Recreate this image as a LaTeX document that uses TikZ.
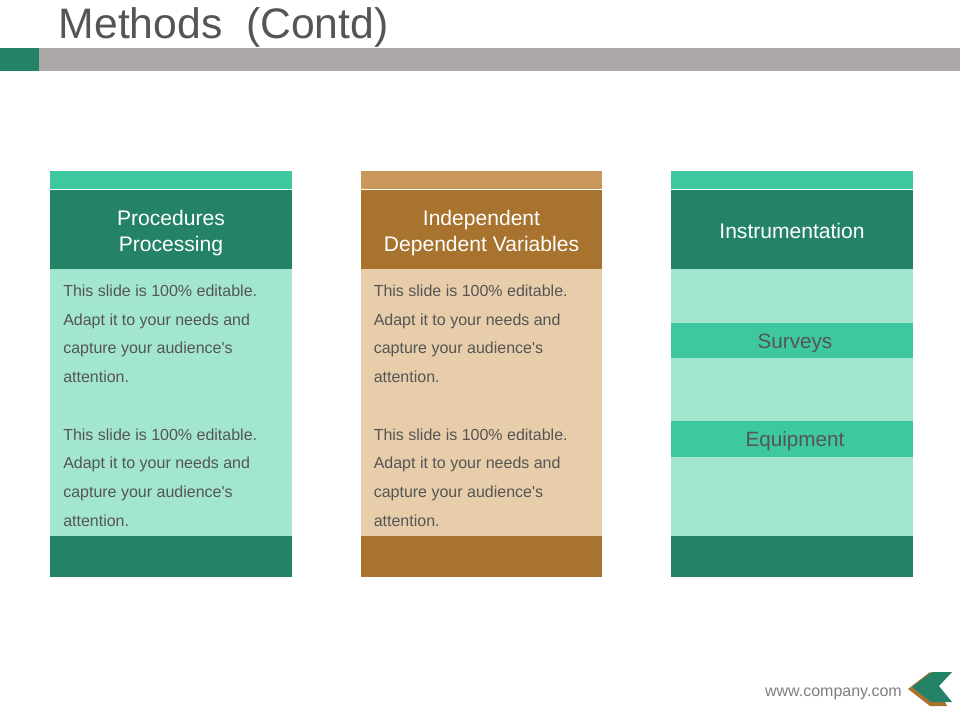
\documentclass[tikz,border=0pt]{standalone}
\usepackage{fontspec}
\setmainfont{Liberation Sans}[Ligatures=TeXOff]
\definecolor{dkgreen}{HTML}{248366}
\definecolor{teal}{HTML}{3EC8A0}
\definecolor{palegreen}{HTML}{A3E6CF}
\definecolor{dkbrown}{HTML}{A8722F}
\definecolor{tan}{HTML}{CA985A}
\definecolor{paletan}{HTML}{E7CDAA}
\definecolor{barGray}{HTML}{ADA8A8}
\definecolor{txtGray}{HTML}{555555}
\definecolor{urlGray}{HTML}{7F7F7F}
\tikzset{
  x=0.75pt,y=-0.75pt,
  header/.style={text=white,align=center,font=\fontsize{15.8}{19}\selectfont,inner sep=0pt},
  bodytext/.style={text=txtGray,align=left,anchor=north west,inner sep=0pt,font=\fontsize{12}{21.56}\selectfont},
  bandlabel/.style={text=txtGray,font=\fontsize{15.5}{19}\selectfont,inner sep=0pt},
}
\newcommand{\colbox}[5]{%
  \fill[#4] (#1,171) rectangle (#2,189);
  \fill[#3] (#1,190) rectangle (#2,269);
  \fill[#5] (#1,269) rectangle (#2,536);
  \fill[#3] (#1,536) rectangle (#2,577);
}
\newcommand{\bodylines}{This slide is 100\% editable.\\Adapt it to your needs and\\capture your audience's\\attention.\\[21.56pt]This slide is 100\% editable.\\Adapt it to your needs and\\capture your audience's\\attention.}
\begin{document}
\begin{tikzpicture}
\useasboundingbox (0,0) rectangle (960,720);
\fill[white] (0,0) rectangle (960,720);
% top bar
\fill[barGray] (39,48) rectangle (960,71);
\fill[dkgreen] (0,48) rectangle (39,71);
\node[text=txtGray,anchor=base west,inner sep=0pt,font=\fontsize{32}{38}\selectfont] (title) at (58.5,38.5) {Methods\ \ (Contd)};
% columns
\colbox{50}{292}{dkgreen}{teal}{palegreen}
\colbox{361}{602}{dkbrown}{tan}{paletan}
\colbox{671}{913}{dkgreen}{teal}{palegreen}
% bands
\fill[teal] (671,323) rectangle (913,358);
\fill[teal] (671,421) rectangle (913,457);
% headers
\node[header] (h1) at (171,233) {Procedures\\Processing};
\node[header] (h2) at (481.5,233) {Independent\\Dependent Variables};
\node[header] (h3) at (792,231) {Instrumentation};
% body text
\node[bodytext] (b1) at (63,284.5) {\bodylines};
\node[bodytext] (b2) at (373.5,284.5) {\bodylines};
\node[bandlabel] (s) at (795,343) {Surveys};
\node[bandlabel] (e) at (795,441) {Equipment};
% footer
\node[text=urlGray,anchor=base east,inner sep=0pt,font=\fontsize{12}{14}\selectfont] (url) at (902,696) {www.company.com};
\fill[dkbrown] (908,689) -- (930,672) -- (947,706) -- (930,706) -- cycle;
\fill[dkgreen] (912,687) -- (932,672) -- (952,672) -- (939,686) -- (952,702) -- (931,702) -- cycle;
\end{tikzpicture}
\end{document}
